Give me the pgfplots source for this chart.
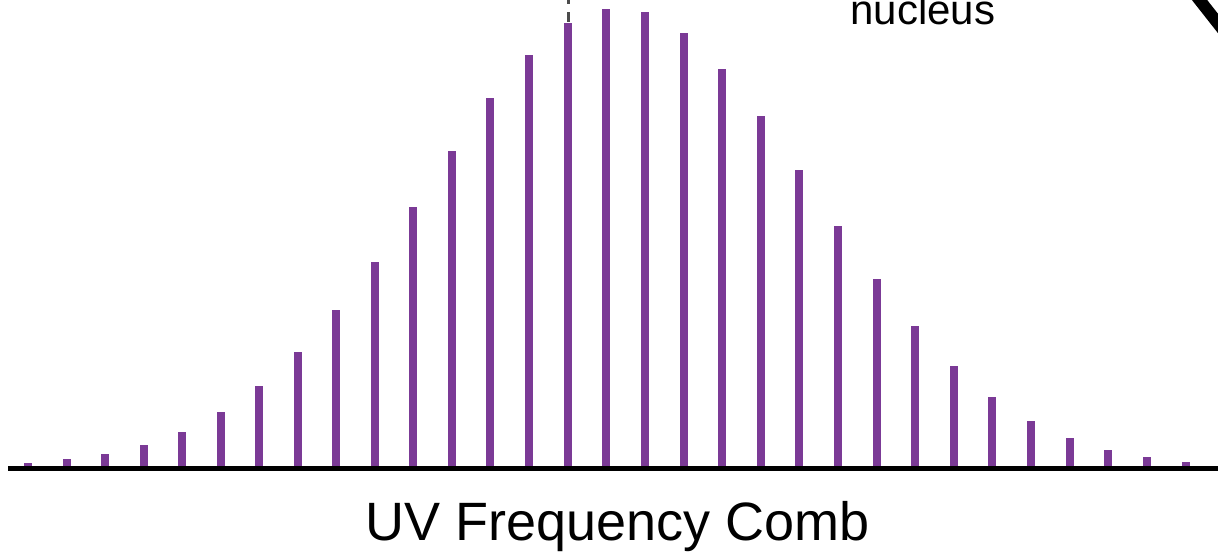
\documentclass[border=0pt]{standalone}
\usepackage{pgfplots}
\pgfplotsset{compat=1.18}
\usepackage{fontspec}
\setmainfont{Liberation Sans}
\definecolor{combpurple}{RGB}{123,58,150}
\begin{document}
\begin{tikzpicture}[x=0.5pt,y=0.5pt]
\useasboundingbox (0,0) rectangle (1218,557);
\clip (0,0) rectangle (1218,557);
\begin{axis}[
  at={(0pt,44.5pt)}, anchor=origin,
  scale only axis, width=609pt, height=234pt,
  xmin=0, xmax=1218, ymin=0, ymax=468,
  axis lines=none, ticks=none, clip=false,
]
\addplot[ycomb, combpurple, line width=4pt, line cap=butt] coordinates {
(28,5) (67,9) (105,14) (144,23) (182,36) (221,56) (259,82) (298,116)
(336,158) (375,206) (413,261) (452,317) (490,370) (529,413) (568,445)
(606,459) (645,456) (684,435) (722,399) (761,352) (799,298) (838,242)
(877,189) (915,142) (954,102) (992,71) (1031,47) (1070,30) (1108,18)
(1147,11) (1186,6)
};
\draw[black!70, line width=1.5pt, dash pattern=on 5pt off 4pt] (axis cs:568,446) -- (axis cs:568,472);
\draw[black, line width=2.5pt] (axis cs:8,0) -- (axis cs:1218,0);
\end{axis}
\draw[black, line width=6pt] (1194.8,563) -- (1231,517);
\node[anchor=base west, inner sep=0pt, font=\fontsize{21pt}{25pt}\selectfont] at (850,532) {nucleus};
\node[anchor=base, inner sep=0pt, font=\fontsize{27pt}{32pt}\selectfont] at (618,17) {UV Frequency Comb};
\end{tikzpicture}
\end{document}
